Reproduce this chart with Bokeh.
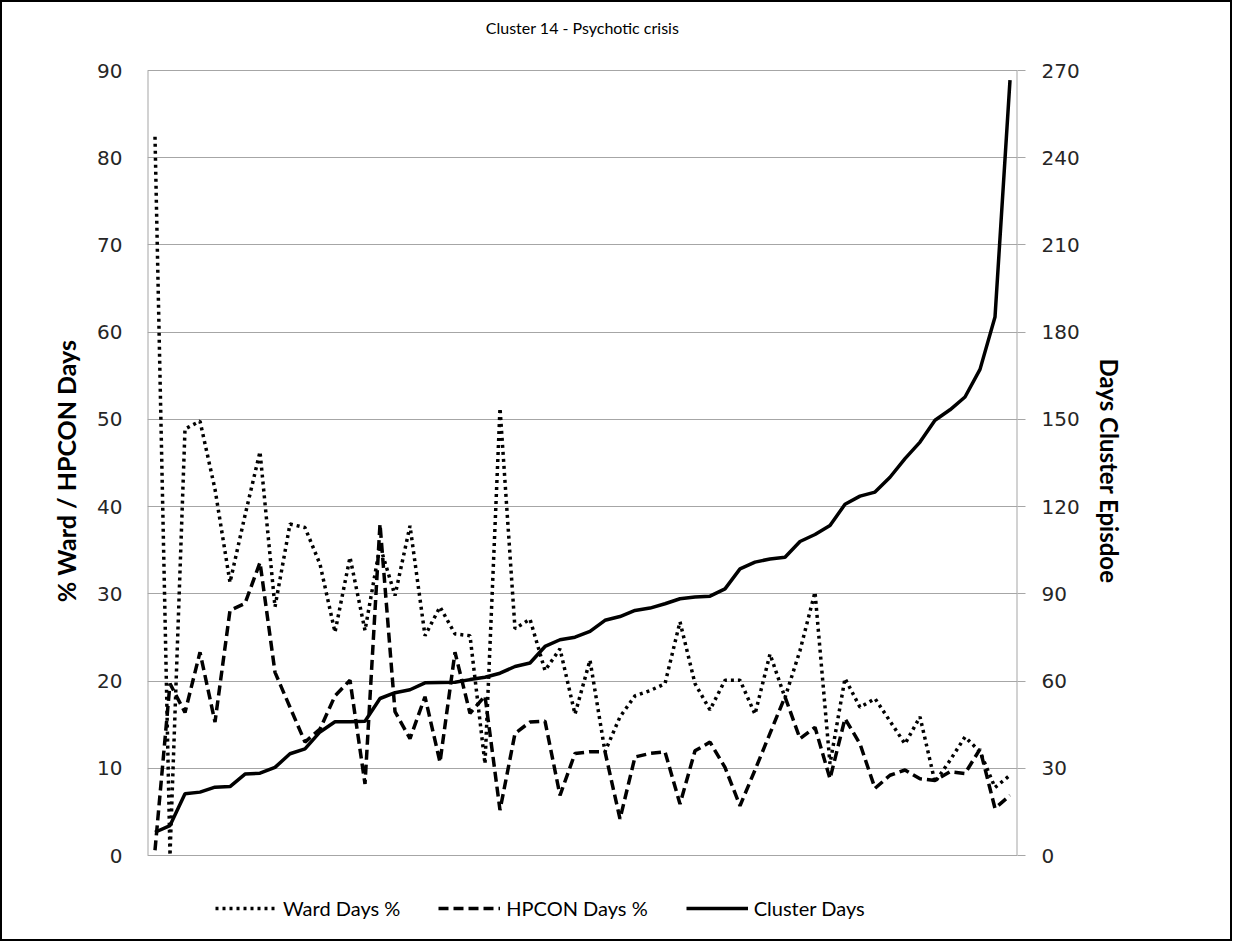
from bokeh.plotting import figure
from bokeh.models import Range1d, LinearAxis, FixedTicker, Legend, LegendItem, ColumnDataSource, Label
from bokeh.embed import file_html
from bokeh.resources import INLINE

episode = list(range(1, 59))

ward_days_pct = [82.4, 0.0, 48.9, 49.8, 42.0, 31.3, 39.0, 46.3, 28.5, 38.0,
                 37.6, 33.4, 25.6, 34.2, 25.8, 35.5, 29.8, 37.8, 25.2, 28.5,
                 25.4, 25.2, 10.5, 51.3, 26.0, 27.1, 21.2, 23.7, 16.2, 22.4,
                 11.9, 15.9, 18.3, 18.9, 19.7, 26.8, 19.7, 16.7, 20.1, 20.1,
                 16.2, 23.1, 18.1, 23.5, 30.2, 10.5, 20.3, 17.0, 18.0, 15.4,
                 12.8, 15.9, 8.4, 10.9, 13.6, 11.9, 7.8, 9.2]

hpcon_days_pct = [0.6, 19.7, 16.4, 23.3, 15.3, 28.1, 28.9, 33.6, 21.0, 17.0,
                  13.0, 14.5, 18.3, 20.1, 8.2, 38.0, 16.5, 13.4, 18.2, 10.7,
                  23.3, 16.3, 18.3, 5.2, 14.0, 15.3, 15.4, 6.9, 11.7, 11.9,
                  11.9, 4.2, 11.3, 11.7, 11.9, 5.9, 12.0, 13.0, 10.1, 5.7,
                  9.8, 14.0, 18.2, 13.4, 14.7, 8.8, 15.7, 12.8, 7.7, 9.2,
                  9.8, 8.8, 8.6, 9.6, 9.4, 12.2, 5.4, 6.9]

cluster_days = [8.0, 10.3, 21.2, 21.8, 23.5, 23.7, 28.0, 28.3, 30.3, 35.0,
                36.7, 42.5, 46.0, 46.0, 46.2, 54.0, 56.0, 57.0, 59.4, 59.5,
                59.6, 60.5, 61.3, 62.7, 65.0, 66.2, 71.9, 74.2, 75.1, 77.1,
                80.9, 82.2, 84.3, 85.1, 86.6, 88.3, 88.9, 89.2, 91.7, 98.6,
                100.9, 102.0, 102.6, 108.0, 110.4, 113.5, 120.8, 123.6, 125.0, 130.1,
                136.5, 142.2, 149.7, 153.3, 157.7, 167.2, 185.2, 266.7]

left_ticks = list(range(0, 91, 10))
right_ticks = list(range(0, 271, 30))

TITLE = "Cluster 14 - Psychotic crisis"

# ---- layout (pixels) ----
W, H = 1232, 941
PLOT_TOP, PLOT_BOTTOM = 70, 855          # where 90 and 0 sit on the page
LEFT_MAX, RIGHT_MAX = 90, 270
px_per_unit = (PLOT_BOTTOM - PLOT_TOP) / LEFT_MAX
y_hi = LEFT_MAX + PLOT_TOP / px_per_unit
y_lo = -(H - PLOT_BOTTOM) / px_per_unit
ratio = RIGHT_MAX / LEFT_MAX

src = ColumnDataSource(dict(x=episode, ward=ward_days_pct, hpcon=hpcon_days_pct, days=cluster_days))

GRID = "#a6a6a6"
TXT = "#262626"
x_lo, x_hi = 0.5, len(episode) + 0.5

p = figure(width=W, height=H, output_backend="svg", toolbar_location=None,
           x_range=Range1d(x_lo, x_hi), y_range=Range1d(y_lo, y_hi),
           x_axis_location=None,
           min_border_left=147, min_border_right=215, min_border_top=0, min_border_bottom=0)
p.extra_y_ranges = {"days": Range1d(y_lo * ratio, y_hi * ratio)}
p.outline_line_color = None
p.background_fill_color = None
p.border_fill_color = None
p.styles = {"outline": "2px solid black", "outline-offset": "-2px", "background-color": "white"}

p.xgrid.visible = False
p.yaxis.ticker = FixedTicker(ticks=left_ticks)
p.ygrid.ticker = FixedTicker(ticks=left_ticks)
p.ygrid.grid_line_color = GRID
p.ygrid.grid_line_width = 1

ya = p.yaxis[0]
ya.axis_line_color = None
ya.major_tick_out = 0
ya.major_tick_in = 0
ya.minor_tick_line_color = None
ya.major_label_standoff = 25
ya.major_label_text_font = "DejaVu Sans"
ya.major_label_text_font_size = "20px"
ya.major_label_text_color = TXT
ya.axis_label = "% Ward / HPCON Days"
ya.axis_label_text_font = "Lato"
ya.axis_label_text_font_style = "bold"
ya.axis_label_text_font_size = "25px"
ya.axis_label_text_color = "black"
ya.axis_label_standoff = 13

ra = LinearAxis(y_range_name="days", ticker=FixedTicker(ticks=right_ticks),
                axis_label="Days Cluster Episdoe")
ra.axis_line_color = None
ra.major_tick_line_color = GRID
ra.major_tick_out = 8
ra.major_tick_in = 0
ra.minor_tick_line_color = None
ra.major_label_standoff = 16
ra.major_label_text_font = "DejaVu Sans"
ra.major_label_text_font_size = "20px"
ra.major_label_text_color = TXT
ra.axis_label_text_font = "Lato"
ra.axis_label_text_font_style = "bold"
ra.axis_label_text_font_size = "24px"
ra.axis_label_text_color = "black"
ra.axis_label_standoff = 12
p.add_layout(ra, "right")

# axis lines only over the value span 0..90
p.segment(x0=[x_lo, x_hi], y0=[0, 0], x1=[x_lo, x_hi], y1=[LEFT_MAX, LEFT_MAX],
          line_color=GRID, line_width=2)

r_ward = p.line("x", "ward", source=src, line_color="black", line_width=3.5, line_dash="3 4")
r_hp = p.line("x", "hpcon", source=src, line_color="black", line_width=3.5, line_dash="10 5")
r_days = p.line("x", "days", source=src, y_range_name="days", line_color="black", line_width=3.5)

p.add_layout(Label(x=(x_lo + x_hi) / 2, y=H - 27, x_units="data", y_units="screen",
                   text=TITLE, text_align="center", text_baseline="middle",
                   text_font="Lato", text_font_size="16px", text_color="black"))

legend = Legend(items=[LegendItem(label="Ward Days %", renderers=[r_ward]),
                       LegendItem(label="HPCON Days %", renderers=[r_hp]),
                       LegendItem(label="Cluster Days", renderers=[r_days])],
                orientation="horizontal", location=(68, 21),
                glyph_width=62, spacing=38, padding=0, label_standoff=6,
                border_line_color=None, background_fill_alpha=0,
                label_text_font="Lato", label_text_font_size="20px", label_text_color="black")
p.add_layout(legend, "center")

open("out.html", "w").write(file_html(p, INLINE))
